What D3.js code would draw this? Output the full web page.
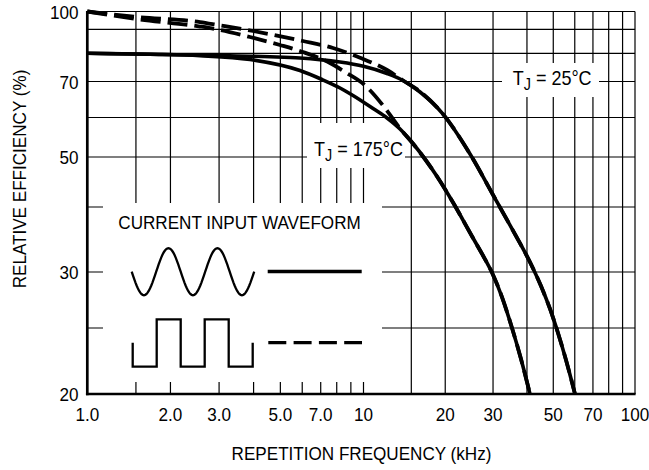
<!DOCTYPE html>
<html>
<head>
<meta charset="utf-8">
<script src="https://cdn.jsdelivr.net/npm/d3@7"></script>
<style>
  body { margin: 0; background: #fff; }
  text { font-family: "Liberation Sans", Arial, Helvetica, sans-serif; fill: #000; }
</style>
</head>
<body>
<div id="chart"></div>
<script>
    // grid and tick values
    var gridFreq = [1, 1.5, 2, 3, 4, 5, 6, 7, 8, 9, 10, 15, 20, 30, 40, 50, 60, 70, 80, 90, 100];
    var freqLabels = [1, 2, 3, 5, 7, 10, 20, 30, 50, 70, 100];
    var gridEff = [20, 25, 30, 40, 50, 60, 70, 80, 90, 100];
    var effLabels = [20, 30, 50, 70, 100];

    // sine wave input, TJ = 25C (solid)
    var sine25Freq = [1, 1.687, 2.973, 4.586, 5.889, 6.958, 8.222, 10, 12.21, 13.98, 16.15, 19.63, 24.68, 30.76, 36.45, 41.05, 45.06, 48.64, 52.05, 55.70, 60.12];
    var sine25Eff  = [80, 79.66, 79.17, 78.69, 78.24, 77.65, 76.77, 75.22, 72.70, 70.34, 66.92, 60.88, 50.70, 41.23, 35.18, 31.33, 28.66, 26.60, 24.58, 22.44, 20];

    // sine wave input, TJ = 175C (solid)
    var sine175Freq = [1, 1.687, 2.559, 3.881, 5.889, 7.075, 8.222, 9.162, 10.84, 12.21, 13.63, 15.21, 18.61, 21.42, 25.31, 27.55, 29.67, 32.37, 35.24, 38.03, 41.05];
    var sine175Eff  = [80, 79.62, 79.10, 77.69, 73.74, 70.67, 68.08, 65.93, 62.36, 59.86, 56.90, 53.21, 45.93, 40.72, 34.87, 32.27, 30.0, 27.65, 25.0, 22.51, 20];

    // square wave input, TJ = 25C (dashed)
    var square25Freq = [1, 1.51, 2.559, 2.973, 3.981, 6.038, 7.755, 9.713, 12.21, 13.98, 16.15, 19.63, 24.68, 30.76, 36.45, 41.05, 45.06, 48.64, 52.05, 55.70, 60.12];
    var square25Eff  = [100, 96.80, 93.97, 92.32, 89.25, 84.98, 82.11, 78.35, 73.92, 70.34, 67.07, 60.88, 50.70, 41.23, 35.18, 31.33, 28.66, 26.60, 24.58, 22.44, 20];

    // square wave input, TJ = 175C (dashed)
    var square175Freq = [1, 1.51, 2.559, 2.973, 3.881, 4.985, 6.038, 7.562, 8.572, 10, 12.0, 13.63, 15.21, 18.61, 21.42, 25.31, 27.55, 29.67, 32.37, 35.24, 38.03, 41.05];
    var square175Eff  = [100, 95.66, 91.50, 89.91, 86.66, 83.33, 80.51, 76.41, 73.22, 69.25, 62.49, 57.03, 53.21, 45.93, 40.72, 34.87, 32.27, 30.0, 27.65, 25.0, 22.51, 20];

    var fullwidth = 649;
    var fullheight = 470;
    var plot = {left: 87.3, right: 635, top: 11.5, bottom: 394};

    var svg = d3.select("#chart").append("svg")
        .attr("width", fullwidth)
        .attr("height", fullheight);

    var xScale = d3.scaleLog()
        .domain([1, 10, 100])
        .range([plot.left, 363.5, plot.right]);

    // the printed grid is not an even log grid, so each gridline gets its own stop
    var yScale = d3.scaleLog()
        .domain(gridEff)
        .range([394, 328, 272, 207, 157, 117.5, 81.5, 53.3, 29.3, 11.5]);

    // grid
    svg.selectAll("line.vgrid")
        .data(gridFreq.slice(1))
        .enter()
        .append("line")
        .attr("class", "vgrid")
        .attr("x1", function(d) { return xScale(d); })
        .attr("x2", function(d) { return xScale(d); })
        .attr("y1", plot.top)
        .attr("y2", plot.bottom)
        .attr("stroke", "#000")
        .attr("stroke-width", 1.2);

    svg.selectAll("line.hgrid")
        .data(gridEff.slice(1))
        .enter()
        .append("line")
        .attr("class", "hgrid")
        .attr("x1", plot.left)
        .attr("x2", plot.right)
        .attr("y1", function(d) { return yScale(d); })
        .attr("y2", function(d) { return yScale(d); })
        .attr("stroke", "#000")
        .attr("stroke-width", 1.2);

    // white panels behind the legend and the two labels
    var panels = [
        {x: 103, y: 203, w: 279, h: 179},
        {x: 307, y: 123, w: 98, h: 45},
        {x: 502, y: 63, w: 97, h: 34}
    ];
    svg.selectAll("rect.panel")
        .data(panels)
        .enter()
        .append("rect")
        .attr("class", "panel")
        .attr("x", function(d) { return d.x; })
        .attr("y", function(d) { return d.y; })
        .attr("width", function(d) { return d.w; })
        .attr("height", function(d) { return d.h; })
        .attr("fill", "#fff");

    // heavy left and bottom axes
    svg.append("line")
        .attr("x1", plot.left).attr("x2", plot.left)
        .attr("y1", plot.top - 0.5).attr("y2", plot.bottom + 1.35)
        .attr("stroke", "#000").attr("stroke-width", 2.7);
    svg.append("line")
        .attr("x1", plot.left - 1.35).attr("x2", plot.right + 0.6)
        .attr("y1", plot.bottom).attr("y2", plot.bottom)
        .attr("stroke", "#000").attr("stroke-width", 2.7);

    // curves
    var line = d3.line()
        .x(function(d) { return xScale(d[0]); })
        .y(function(d) { return yScale(d[1]); })
        .curve(d3.curveMonotoneX);

    var curves = [
        {f: square25Freq, e: square25Eff, dash: "20,7"},
        {f: square175Freq, e: square175Eff, dash: "20,7"},
        {f: sine25Freq, e: sine25Eff, dash: null},
        {f: sine175Freq, e: sine175Eff, dash: null}
    ];

    curves.forEach(function(c) {
        var pts = c.f.map(function(f, i) { return [f, c.e[i]]; });
        svg.append("path")
            .attr("d", line(pts))
            .attr("fill", "none")
            .attr("stroke", "#000")
            .attr("stroke-width", c.dash ? 3.8 : 3.6)
            .attr("stroke-dasharray", c.dash);
    });

    // text helper: slightly condensed type like the printed sheet
    function addText(x, y, str, size, anchor, rotate) {
        var g = svg.append("g")
            .attr("transform", "translate(" + x + "," + y + ")" + (rotate ? " rotate(-90)" : "") + " scale(0.9,1)");
        return g.append("text")
            .attr("text-anchor", anchor)
            .style("font-size", size + "px")
            .text(str);
    }

    effLabels.forEach(function(d) {
        addText(78.5, yScale(d) + 7, d, 19, "end");
    });

    freqLabels.forEach(function(d) {
        addText(xScale(d), 421, d < 10 ? d.toFixed(1) : d, 19, "middle");
    });

    addText(361.5, 460, "REPETITION FREQUENCY (kHz)", 19, "middle");
    addText(26, 179, "RELATIVE EFFICIENCY (%)", 19, "middle", true);

    function tjLabel(x, y, rest) {
        var t = addText(x, y, "T", 20, "start");
        t.append("tspan").attr("dy", 5).style("font-size", "16px").text("J");
        t.append("tspan").attr("dy", -5).text(" = " + rest);
    }
    tjLabel(512.7, 84.5, "25°C");
    tjLabel(314, 156, "175°C");

    // legend
    addText(118.3, 229.3, "CURRENT INPUT WAVEFORM", 19, "start");

    var legendLine = d3.line();
    var sinePts = d3.range(0, 101).map(function(i) {
        var t = i / 100 * 2.5;
        return [131.7 + t * 49, 271.7 + 23.5 * Math.sin(2 * Math.PI * t)];
    });
    svg.append("path")
        .attr("d", legendLine(sinePts))
        .attr("fill", "none").attr("stroke", "#000").attr("stroke-width", 2.3);

    var sqX = 132.7, sqHalf = 24, sqHi = 319.3, sqLo = 366.7;
    var sqPts = [[sqX, 342.7]];
    for (var k = 0; k < 5; k++) {
        var lvl = k % 2 === 0 ? sqLo : sqHi;
        sqPts.push([sqX + k * sqHalf, lvl]);
        sqPts.push([sqX + (k + 1) * sqHalf, lvl]);
    }
    sqPts.push([sqX + 5 * sqHalf, 342.7]);
    svg.append("path")
        .attr("d", legendLine(sqPts))
        .attr("fill", "none").attr("stroke", "#000").attr("stroke-width", 2.3);

    svg.append("line")
        .attr("x1", 267.7).attr("x2", 361.7).attr("y1", 271.5).attr("y2", 271.5)
        .attr("stroke", "#000").attr("stroke-width", 3.3);
    svg.append("line")
        .attr("x1", 268.3).attr("x2", 362).attr("y1", 342.7).attr("y2", 342.7)
        .attr("stroke", "#000").attr("stroke-width", 3.3)
        .attr("stroke-dasharray", "18,7.3");
</script>
</body>
</html>
